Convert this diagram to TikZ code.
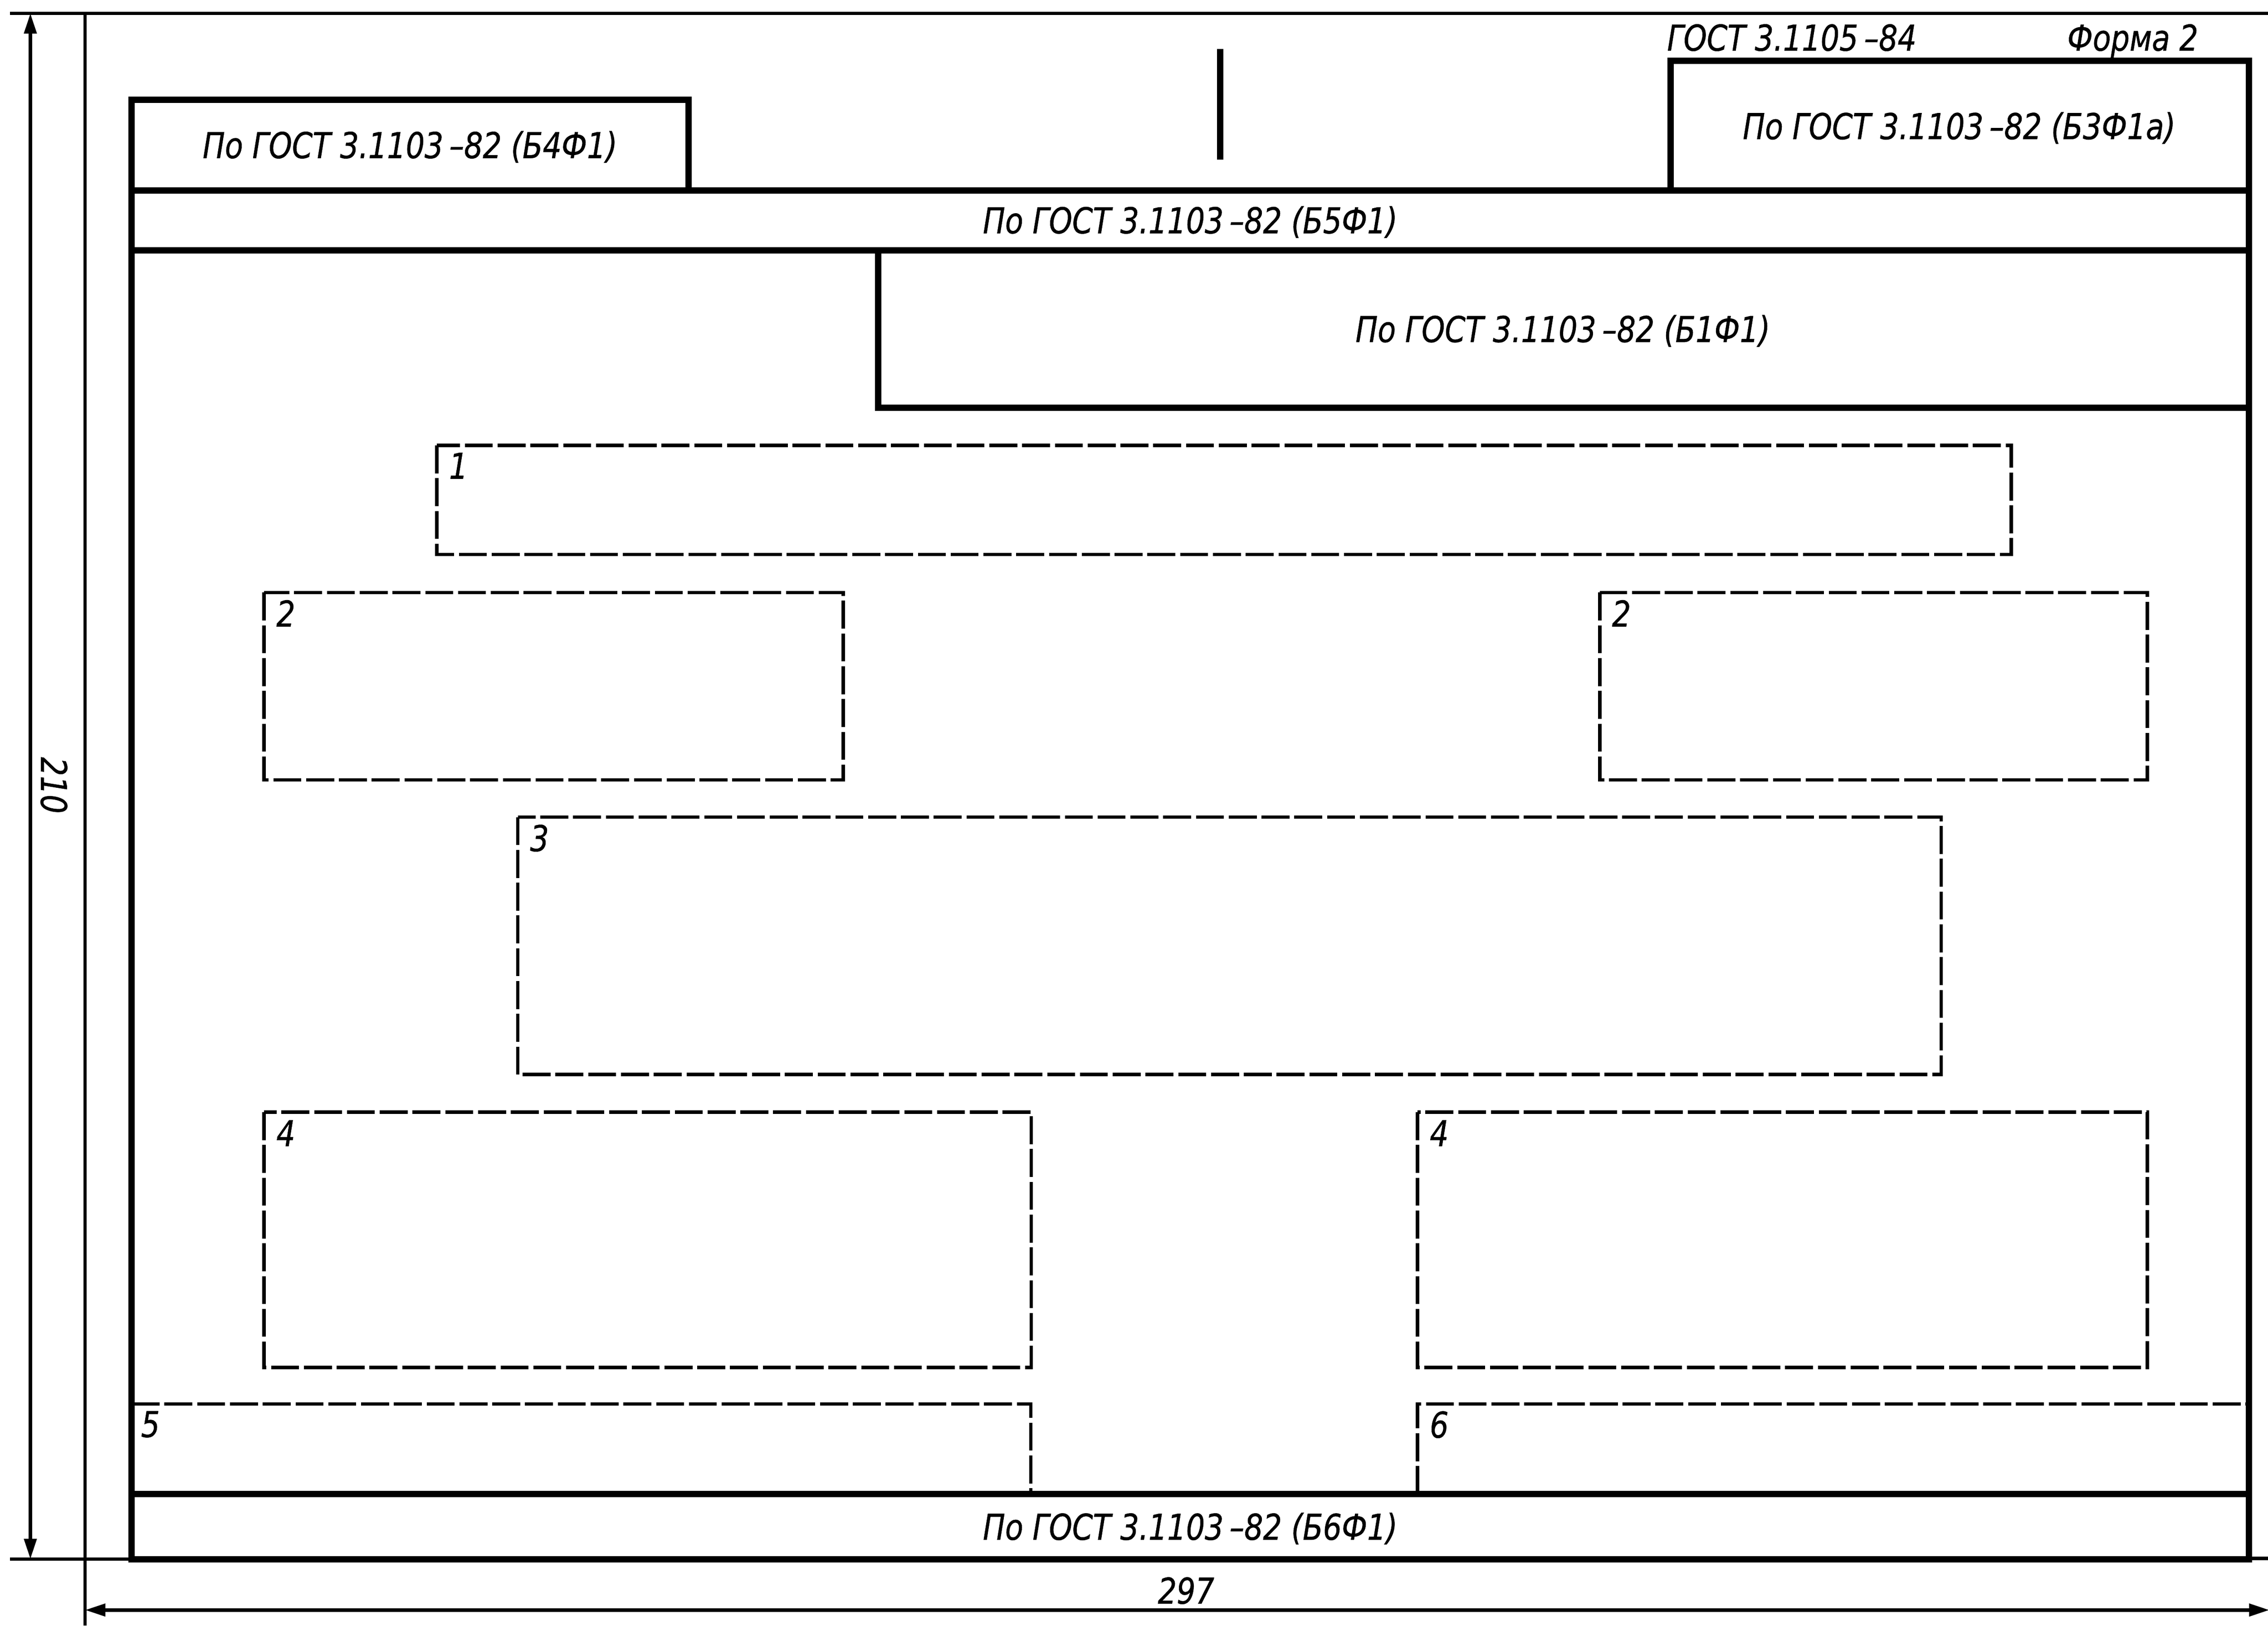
\documentclass[tikz,border=0pt]{standalone}
\usepackage{fontspec}
\setmainfont{DejaVu Sans}[FakeStretch=0.83,RawFeature={embolden=0.8}]
\usetikzlibrary{arrows.meta}
\begin{document}
\begin{tikzpicture}[x=0.02cm,y=-0.02cm,
  framel/.style={line width=2.5pt,line join=miter},
  thinl/.style={line width=1.35pt},
  dashl/.style={line width=1.35pt,dash pattern=on 11pt off 1.9pt},
  dimarrow/.style={thinl,{Triangle[length=8pt,width=4.8pt]}-{Triangle[length=8pt,width=4.8pt]}},
  txt/.style={font=\fontsize{14}{16}\selectfont\itshape,inner sep=0pt,anchor=base},
]
\useasboundingbox (0,0) rectangle (1568,1124);

% sheet edges / extension lines (thin)
\coordinate (tl) at (7,9.2);
\coordinate (tr) at (1568,9.2);
\draw[thinl] (tl) -- (tr);
\coordinate (se1) at (58.8,9.2);
\coordinate (se2) at (58.8,1124);
\draw[thinl] (se1) -- (se2);
\coordinate (bl1) at (7,1078);
\coordinate (bl2) at (91,1078);
\draw[thinl] (bl1) -- (bl2);
\coordinate (br1) at (1554.7,1077.5);
\coordinate (br2) at (1568,1077.5);
\draw[thinl] (br1) -- (br2);

% dimension lines
\coordinate (d210a) at (21,9.2);
\coordinate (d210b) at (21,1078);
\draw[dimarrow] (d210a) -- (d210b);
\coordinate (d297a) at (58.8,1113.2);
\coordinate (d297b) at (1569,1113.2);
\draw[dimarrow] (d297a) -- (d297b);
\node[txt,anchor=center,rotate=-90] (t210) at (37.3,543) {210};
\node[txt] (t297) at (820,1108.8) {297};

% main frame
\draw[framel] (476,131.6) -- (476,69) -- (91,69) -- (91,1078) -- (1554.7,1078)
  -- (1554.7,42) -- (1155,42) -- (1155,131.6);
\draw[framel] (91,131.6) -- (1554.7,131.6);
\draw[framel] (91,173) -- (1554.7,173);
\draw[framel] (607,173) -- (607,282) -- (1554.7,282);
\draw[framel] (91,1033) -- (1554.7,1033);
\draw[framel] (843.5,33.8) -- (843.5,110.3);

% texts of fixed blocks
\node[txt] (hdr1) at (1238.8,35) {ГОСТ 3.1105\,–84};
\node[txt] (hdr2) at (1474.5,35) {Форма 2};
\node[txt] (b4) at (283.5,109.3) {По ГОСТ 3.1103\,–82 (Б4Ф1)};
\node[txt] (b3) at (1354.5,96.2) {По ГОСТ 3.1103\,–82 (Б3Ф1а)};
\node[txt] (b5) at (822.9,161.3) {По ГОСТ 3.1103\,–82 (Б5Ф1)};
\node[txt] (b1) at (1080.5,236.5) {По ГОСТ 3.1103\,–82 (Б1Ф1)};
\node[txt] (b6) at (822.9,1064.6) {По ГОСТ 3.1103\,–82 (Б6Ф1)};

% dashed zones
\draw[dashl] (302,308) rectangle (1390.5,383.4);
\node[txt] (n1) at (317,331) {1};
\draw[dashl] (182.6,409.7) rectangle (583,539.3);
\node[txt] (n2a) at (197.6,433.2) {2};
\draw[dashl] (1106,409.7) rectangle (1484.5,539.3);
\node[txt] (n2b) at (1121,433.2) {2};
\draw[dashl] (358,565) rectangle (1342,743);
\node[txt] (n3) at (373,588.5) {3};
\draw[dashl] (182.6,769) rectangle (713,945.5);
\node[txt] (n4a) at (197.6,792.5) {4};
\draw[dashl] (980,769) rectangle (1484.5,945.5);
\node[txt] (n4b) at (995,792.5) {4};
\draw[dashl] (91,970.8) -- (712.7,970.8) -- (712.7,1033);
\node[txt] (n5) at (104,993.6) {5};
\draw[dashl] (980,1033) -- (980,970.8) -- (1554.7,970.8);
\node[txt] (n6) at (995,994) {6};
\end{tikzpicture}
\end{document}
